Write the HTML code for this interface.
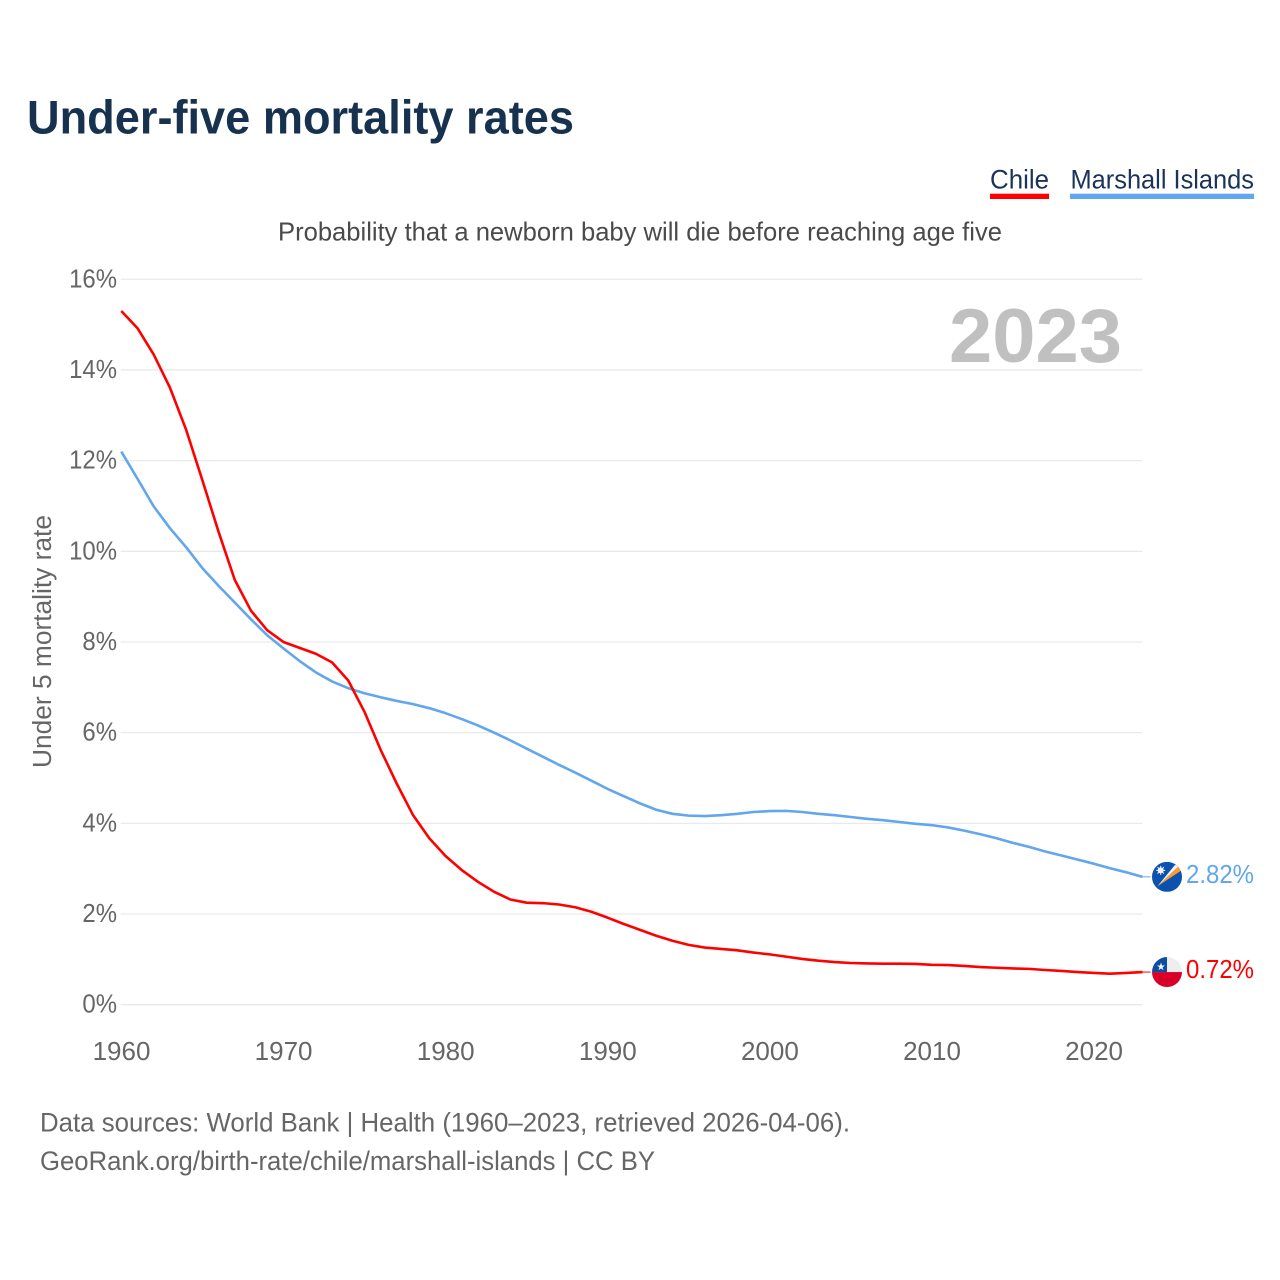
<!DOCTYPE html>
<html lang="en">
<head>
<meta charset="utf-8">
<title>Under-five mortality rates</title>
<style>
  html, body { margin: 0; padding: 0; background: #fff; }
  svg { display: block; }
  text { font-family: "Liberation Sans", sans-serif; }
</style>
</head>
<body>
<svg id="chart" xmlns="http://www.w3.org/2000/svg" width="1280" height="1280" viewBox="0 0 1280 1280">
  <defs>
    <clipPath id="flag-clip-mh"><circle cx="0" cy="0" r="15"></circle></clipPath>
    <clipPath id="flag-clip-cl"><circle cx="0" cy="0" r="15"></circle></clipPath>
  </defs>
  <rect x="0" y="0" width="1280" height="1280" fill="#ffffff"></rect>

  <text x="27" y="133.5" font-size="47" font-weight="700" fill="#17324f" textLength="547" lengthAdjust="spacingAndGlyphs">Under-five mortality rates</text>

  <g>
    <g style="cursor:pointer">
      <text x="990" y="188.5" font-size="27" fill="#1b3358" textLength="59" lengthAdjust="spacingAndGlyphs">Chile</text>
      <rect x="990" y="193.7" width="59" height="5.3" fill="#ff0000"></rect>
    </g>
    <g style="cursor:pointer">
      <text x="1070.5" y="188.5" font-size="27" fill="#1b3358" textLength="183.5" lengthAdjust="spacingAndGlyphs">Marshall Islands</text>
      <rect x="1070" y="193.7" width="184" height="5.3" fill="#62a6ed"></rect>
    </g>
  </g>

  <text x="278" y="240.5" font-size="26" fill="#4a4a4a" textLength="724" lengthAdjust="spacingAndGlyphs">Probability that a newborn baby will die before reaching age five</text>

  <g id="grid"></g>
  <g id="y-ticks"></g>
  <g id="x-ticks"></g>

  <text transform="translate(51 768) rotate(-90)" x="0" y="0" font-size="25.5" fill="#666666" textLength="253" lengthAdjust="spacingAndGlyphs">Under 5 mortality rate</text>

  <text x="949" y="362" font-size="76" font-weight="700" fill="#c0c0c0" textLength="173" lengthAdjust="spacingAndGlyphs">2023</text>

  <g id="series"></g>

  <g id="flag-mh">
    <g clip-path="url(#flag-clip-mh)">
      <rect x="-15" y="-15" width="30" height="30" fill="#0b52b0"></rect>
      <polygon points="-9.7,9.5 12,-11 13.8,-6" fill="#ff9a2e"></polygon>
      <polygon points="-9.7,9.5 8,-12 12,-11" fill="#eef0f2"></polygon>
      <circle cx="-6.3" cy="-6.5" r="3" fill="#eef0f2"></circle>
      <path d="M-6.3,-11 V-2 M-10.8,-6.5 H-1.8 M-9.5,-9.7 L-3.1,-3.3 M-9.5,-3.3 L-3.1,-9.7" stroke="#eef0f2" stroke-width="1"></path>
    </g>
  </g>
  <g id="flag-cl">
    <g clip-path="url(#flag-clip-cl)">
      <rect x="-15" y="-15" width="30" height="15" fill="#eeeeee"></rect>
      <rect x="-15" y="0" width="30" height="15" fill="#d80027"></rect>
      <rect x="-15" y="-15" width="15" height="15" fill="#0b4ea2"></rect>
      <polygon points="-6,-9.5 -5,-6.6 -2,-6.6 -4.4,-4.8 -3.5,-1.9 -6,-3.6 -8.5,-1.9 -7.6,-4.8 -10,-6.6 -7,-6.6" fill="#f4f4f4"></polygon>
    </g>
  </g>

  <g id="end-labels"></g>

  <text x="40" y="1131.5" font-size="26.5" fill="#666666" textLength="810" lengthAdjust="spacingAndGlyphs">Data sources: World Bank | Health (1960–2023, retrieved 2026-04-06).</text>
  <text x="40" y="1170" font-size="26.5" fill="#666666" textLength="615" lengthAdjust="spacingAndGlyphs">GeoRank.org/birth-rate/chile/marshall-islands | CC BY</text>
</svg>

<script>
const startYear = 1960;
const yTickValues = [0, 2, 4, 6, 8, 10, 12, 14, 16];
const xTickYears = [1960, 1970, 1980, 1990, 2000, 2010, 2020];

const chileValues = [
  15.30, 14.92, 14.34, 13.61, 12.68, 11.57, 10.43, 9.37, 8.69, 8.26,
  8.00, 7.87, 7.74, 7.55, 7.15, 6.46, 5.62, 4.87, 4.18, 3.67,
  3.28, 2.97, 2.71, 2.49, 2.32, 2.25, 2.24, 2.21, 2.15, 2.05,
  1.92, 1.78, 1.65, 1.52, 1.41, 1.32, 1.26, 1.23, 1.20, 1.15,
  1.11, 1.06, 1.01, 0.97, 0.94, 0.92, 0.91, 0.905, 0.905, 0.90,
  0.88, 0.875, 0.855, 0.83, 0.815, 0.80, 0.79, 0.765, 0.745, 0.72,
  0.70, 0.685, 0.70, 0.72
];

const marshallValues = [
  12.20, 11.60, 10.99, 10.51, 10.09, 9.63, 9.24, 8.87, 8.50, 8.15,
  7.86, 7.58, 7.33, 7.13, 6.98, 6.87, 6.78, 6.70, 6.63, 6.54,
  6.43, 6.30, 6.16, 6.00, 5.83, 5.65, 5.47, 5.29, 5.12, 4.94,
  4.76, 4.60, 4.44, 4.30, 4.21, 4.17, 4.16, 4.18, 4.21, 4.25,
  4.27, 4.275, 4.25, 4.21, 4.18, 4.14, 4.10, 4.07, 4.03, 3.99,
  3.96, 3.91, 3.84, 3.76, 3.67, 3.57, 3.48, 3.38, 3.29, 3.20,
  3.11, 3.01, 2.92, 2.82
];

const SVG_NS = 'http://www.w3.org/2000/svg';
const xScale = function (year) { return 121.3 + (year - 1960) * 16.21; };
const yScale = function (v) { return 1004.7 - v * 45.34; };
const plotRight = 1142.5;

function make(tag, parent) {
  const el = document.createElementNS(SVG_NS, tag);
  parent.appendChild(el);
  return el;
}

const gridGroup = document.getElementById('grid');
const yTickGroup = document.getElementById('y-ticks');
const xTickGroup = document.getElementById('x-ticks');
const seriesGroup = document.getElementById('series');
const endGroup = document.getElementById('end-labels');

yTickValues.forEach(function (v) {
  const line = make('line', gridGroup);
  
  
  line.setAttribute('x1', 120.7);
  line.setAttribute('x2', plotRight);
  line.setAttribute('y1', yScale(v));
  line.setAttribute('y2', yScale(v));
  line.setAttribute('stroke', '#e9e9e9');
  line.setAttribute('stroke-width', '1.3');

  const label = make('text', yTickGroup);
  
  
  label.setAttribute('x', 117);
  label.setAttribute('y', yScale(v) + 8);
  label.setAttribute('text-anchor', 'end');
  label.setAttribute('font-size', '26');
  label.setAttribute('fill', '#666666');
  label.textContent = v + '%';
  label.setAttribute('textLength', (label.getComputedTextLength() * 0.92).toFixed(1));
  label.setAttribute('lengthAdjust', 'spacingAndGlyphs');
});

xTickYears.forEach(function (year) {
  const label = make('text', xTickGroup);
  
  
  label.setAttribute('x', xScale(year) + 0.2);
  label.setAttribute('y', 1060);
  label.setAttribute('text-anchor', 'middle');
  label.setAttribute('font-size', '26');
  label.setAttribute('fill', '#666666');
  label.textContent = String(year);
});

function linePath(values) {
  return values.map(function (v, i) {
    return (i === 0 ? 'M' : 'L') + xScale(startYear + i).toFixed(2) + ',' + yScale(v).toFixed(2);
  }).join(' ');
}

function drawSeries(key, values, color, flagId, width) {
  const lastY = yScale(values[values.length - 1]);
  const lastX = xScale(startYear + values.length - 1);

  const leader = make('line', seriesGroup);
  
  
  leader.setAttribute('x1', lastX);
  leader.setAttribute('x2', lastX + 8);
  leader.setAttribute('y1', lastY);
  leader.setAttribute('y2', lastY);
  leader.setAttribute('stroke', color);
  leader.setAttribute('stroke-width', '1');

  const path = make('path', seriesGroup);
  
  
  path.setAttribute('d', linePath(values));
  path.setAttribute('fill', 'none');
  path.setAttribute('stroke', color);
  path.setAttribute('stroke-width', width);
  path.setAttribute('stroke-linejoin', 'round');

  document.getElementById(flagId).setAttribute('transform', 'translate(1167 ' + lastY.toFixed(2) + ')');

  const label = make('text', endGroup);
  
  
  label.setAttribute('x', 1186);
  label.setAttribute('y', lastY + 6);
  label.setAttribute('font-size', '25.5');
  label.setAttribute('fill', color);
  label.setAttribute('textLength', '68');
  label.setAttribute('lengthAdjust', 'spacingAndGlyphs');
  label.textContent = values[values.length - 1].toFixed(2) + '%';
}

drawSeries('marshall-islands', marshallValues, '#62a6ed', 'flag-mh', '2.6');
drawSeries('chile', chileValues, '#ff0000', 'flag-cl', '2.6');
</script>
</body>
</html>
